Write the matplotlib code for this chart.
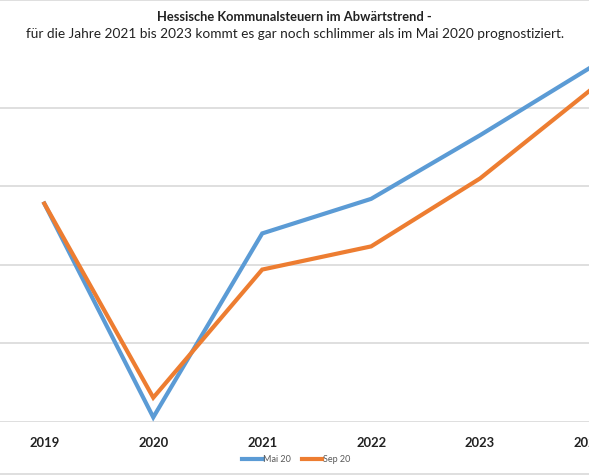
import matplotlib.pyplot as plt
from matplotlib.lines import Line2D

jahre = ['2019', '2020', '2021', '2022', '2023', '2024']
mai_20 = [2.78, 0.06, 2.40, 2.84, 3.65, 4.50]
sep_20 = [2.78, 0.31, 1.94, 2.235, 3.10, 4.21]

plt.rcParams['font.family'] = ['Lato', 'DejaVu Sans']

fig = plt.figure(figsize=(5.89, 4.75), dpi=100)
ax = fig.add_axes([0, 53 / 475, 1, (422 - 37) / 475])

x = list(range(len(jahre)))
ax.plot(x, mai_20, color='#5B9BD5', linewidth=3, clip_on=False, label='Mai 20',
        solid_joinstyle='miter')
ax.plot(x, sep_20, color='#ED7D31', linewidth=3, clip_on=False, label='Sep 20',
        solid_joinstyle='miter')

ax.set_xlim(-0.407, 4.920)
ax.set_ylim(0, 4.9)
ax.set_yticks([0, 1, 2, 3, 4])
ax.set_yticklabels([])
ax.tick_params(axis='y', length=0)
ax.set_xticks(x)
ax.set_xticklabels(jahre, fontsize=9.4, fontweight='bold', color='#222222')
ax.tick_params(axis='x', length=0, pad=11)
ax.grid(axis='y', color='#d9d9d9', linewidth=1.2)
ax.set_axisbelow(True)
for s in ax.spines.values():
    s.set_visible(False)

# Rahmen des Diagrammbereichs
fig.add_artist(Line2D([0, 1], [0.999, 0.999], color='#d9d9d9', linewidth=1.2))
fig.add_artist(Line2D([0, 1], [0.002, 0.002], color='#d9d9d9', linewidth=1.2))

fig.text(294 / 589, 1 - 17 / 475, 'Hessische Kommunalsteuern im Abwärtstrend -',
         ha='center', va='center', fontsize=9.3, fontweight='bold', color='#222222')
fig.text(295 / 589, 1 - 34 / 475,
         'für die Jahre 2021 bis 2023 kommt es gar noch schlimmer als im Mai 2020 prognostiziert.',
         ha='center', va='center', fontsize=9.85, color='#222222')

fig.legend(loc='center', bbox_to_anchor=(296 / 589, 1 - 460 / 475), ncol=2,
           frameon=False, fontsize=6.5, labelcolor='#595959', handlelength=2.3,
           handletextpad=0.05, columnspacing=1.2)

fig.savefig('out.png', dpi=100)
